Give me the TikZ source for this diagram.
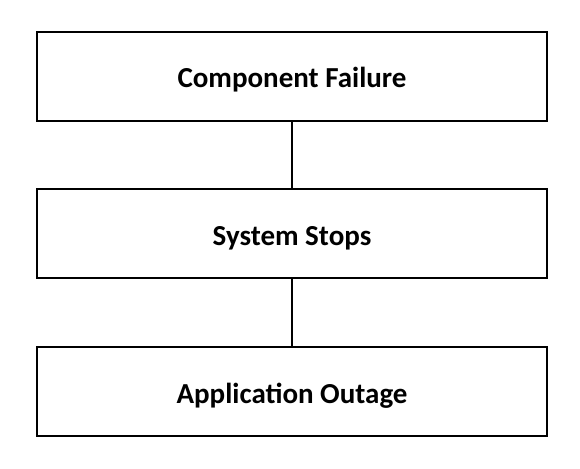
\documentclass[tikz,border=0pt]{standalone}
\usepackage{fontspec}
\setmainfont{Carlito}
\begin{document}
\begin{tikzpicture}[x=1pt,y=-1pt,
  stage/.style={draw=black,line width=1.4pt,minimum width=510pt,minimum height=89pt,inner sep=0pt,text height=23pt,text depth=0pt,font=\fontsize{29}{34}\selectfont\bfseries},
  link/.style={draw=black,line width=1.2pt}]
\useasboundingbox (0,0) rectangle (580,468);
\node[stage] (a) at (292,76.5) {Component Failure};
\node[stage] (b) at (292,233.5) {System Stops};
\node[stage] (c) at (292,391.5) {Application Outage};
\draw[link] (a) -- (b);
\draw[link] (b) -- (c);
\end{tikzpicture}
\end{document}
